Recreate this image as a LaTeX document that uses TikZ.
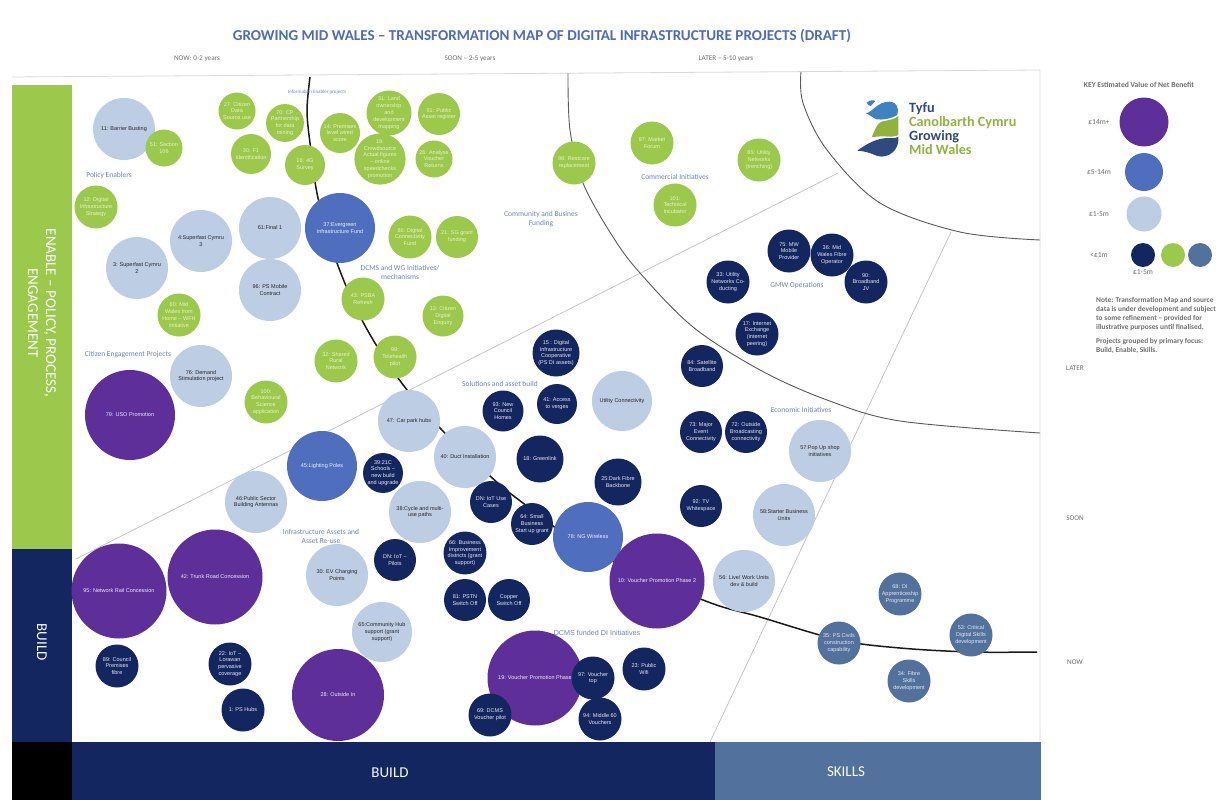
\documentclass[tikz,border=0pt]{standalone}
\usepackage{fontspec}
\setmainfont{Liberation Sans}
\newfontfamily\calib{Carlito}
\definecolor{cpurple}{HTML}{5F2F99}
\definecolor{cblue}{HTML}{4F6FBE}
\definecolor{clight}{HTML}{BCCDE4}
\definecolor{cnavy}{HTML}{14265F}
\definecolor{cgreen}{HTML}{9CC94B}
\definecolor{csteel}{HTML}{52719C}
\definecolor{clabel}{HTML}{6C82BF}
\definecolor{ctitle}{HTML}{4E6BB5}
\definecolor{cgreyt}{HTML}{6E6E6E}
\definecolor{cbluel}{HTML}{3F82C2}
\definecolor{cgreenl}{HTML}{8FB33C}
\definecolor{cnavyl}{HTML}{2E4A7E}
\tikzset{
  bubble/.style={circle,inner sep=0pt,align=center,font=\fontsize{5.5}{6.8}\selectfont},
  bpurple/.style={bubble,fill=cpurple,text=white!90!cpurple},
  bblue/.style={bubble,fill=cblue,text=white!90!cblue},
  blight/.style={bubble,fill=clight,text=black!85},
  bnavy/.style={bubble,fill=cnavy,text=white!90!cnavy},
  bgreen/.style={bubble,fill=cgreen,text=white!75!cgreen},
  bsteel/.style={bubble,fill=csteel,text=white!85!csteel},
  grouplab/.style={align=center,inner sep=0pt,text=clabel,font=\calib\fontsize{7.5}{9}\selectfont},
  axislab/.style={inner sep=0pt,text=cgreyt,font=\calib\fontsize{7.2}{8}\selectfont},
  keylab/.style={inner sep=0pt,text=cgreyt,font=\calib\fontsize{7.6}{9}\selectfont},
  bandlab/.style={inner sep=0pt,align=center,text=white!92!clight,font=\calib\fontsize{15}{18}\selectfont},
  logolab/.style={anchor=west,inner sep=0pt,font=\calib\bfseries\fontsize{14.2}{15}\selectfont},
  thinline/.style={draw=black!25,line width=0.7pt},
  nowcurve/.style={draw=black!90,line width=1.5pt},
  arccurve/.style={draw=black!65,line width=0.9pt}
}
\newcommand{\bub}[6]{\node[#5,minimum size=#4pt] (#1) at (#2,#3) {#6};}
\begin{document}
\begin{tikzpicture}[x=1pt,y=-1pt]
\useasboundingbox (0,0) rectangle (1232,800);
\fill[white] (0,0) rectangle (1232,800);
% frame
\draw[draw=black!15,line width=0.8pt] (12,77) -- (1040,70) -- (1040,742);
% bands
\fill[cgreen] (12,85) rectangle (72,549);
\fill[cnavy] (12,549) rectangle (72,742);
\fill[black] (12,742) rectangle (72,800);
\fill[cnavy] (72,742) rectangle (715,800);
\fill[csteel] (715,742) rectangle (1041,800);
\node[bandlab,rotate=-90] (bandenable) at (42,313) {ENABLE – POLICY, PROCESS,\\ENGAGEMENT};
\node[bandlab,rotate=-90] (bandbuild) at (42,642) {BUILD};
\node[bandlab] (botbuild) at (390,773) {BUILD};
\node[bandlab] (botskills) at (846,772) {SKILLS};
% thin diagonals
\draw[thinline] (76,559) -- (838,173);
\draw[thinline] (710,742) -- (951,232);
% curves
\draw[nowcurve] plot[smooth,tension=0.55] coordinates {(310,77) (307,110) (310,143) (318,198) (337,263) (363,322) (398,378) (440,428) (490,476) (523,503) (590,550) (703,600) (760,617) (839,640) (900,648) (971,652) (1037,652)};
\draw[arccurve] plot[smooth,tension=0.55] coordinates {(568,73) (570,130) (583,183) (613,237) (640,273) (693,327) (760,370) (827,400) (900,421) (1040,433)};
\draw[arccurve] plot[smooth,tension=0.55] coordinates {(801,72) (803,103) (827,150) (880,203) (960,232) (1040,240)};
% title and axes
\node[inner sep=0pt,text=ctitle,font=\calib\bfseries\fontsize{15.1}{17}\selectfont] (title) at (542,36) {GROWING MID WALES – TRANSFORMATION MAP OF DIGITAL INFRASTRUCTURE PROJECTS (DRAFT)};
\node[axislab] (axnow) at (197,59) {NOW: 0-2 years};
\node[axislab] (axsoon) at (470,59) {SOON – 2-5 years};
\node[axislab] (axlater) at (726,59) {LATER – 5-10 years};
\node[axislab] (rowlater) at (1075,368) {LATER};
\node[axislab] (rowsoon) at (1075,518) {SOON};
\node[axislab] (rownow) at (1075,662) {NOW};
% bubbles
\bub{a11}{124}{129}{62}{blight}{11: Barrier Busting}
\bub{a51}{164}{148}{37}{bgreen}{51: Section\\106}
\bub{a27}{237}{111}{37}{bgreen}{27: Citizen\\Data\\Source use}
\bub{a70}{285}{123}{37}{bgreen}{70: CP\\Partnership\\for data\\mining}
\bub{a30}{251}{154}{40}{bgreen}{30: F1\\Identification}
\bub{a16}{305}{165}{40}{bgreen}{16: 4G\\Survey}
\bub{a14}{340}{133}{40}{bgreen}{14: Premises\\level wired\\score}
\bub{a31}{389}{113}{41}{bgreen}{31: Land\\ownership\\and\\development\\mapping}
\bub{a91}{439}{114}{42}{bgreen}{91: Public\\Asset register}
\bub{a19}{380}{159}{43}{bgreen}{19:\\Crowdsource\\Actual figures\\– online\\speedchecks\\promotion}
\bub{a26}{434}{159}{37}{bgreen}{26: Analyse\\Voucher\\Returns}
\bub{a12}{96}{207}{43}{bgreen}{12: Digital\\Infrastructure\\Strategy}
\bub{a4}{201}{241}{62}{blight}{4:Superfast Cymru\\3}
\bub{a3}{137}{268}{62}{blight}{3: Superfast Cymru\\2}
\bub{a61}{270}{228}{62}{blight}{61:Final 1}
\bub{a96}{270}{290}{62}{blight}{96: PS Mobile\\Contract}
\bub{a37}{340}{228}{70}{bblue}{37:Evergreen\\Infrastructure Fund}
\bub{a86}{410}{237}{43}{bgreen}{86: Digital\\Connectivity\\Fund}
\bub{a21}{457}{237}{42}{bgreen}{21: SG grant\\funding}
\bub{a43}{363}{299}{43}{bgreen}{43: PSBA\\Refresh}
\bub{a13}{443}{316}{41}{bgreen}{13: Citizen\\Digital\\Enquiry}
\bub{a60}{179}{315}{43}{bgreen}{60: Mid\\Wales from\\Home – WFH\\initiative}
\bub{a76}{201}{376}{62}{blight}{76: Demand\\Stimulation project}
\bub{a79}{130}{415}{90}{bpurple}{79: USO  Promotion}
\bub{a100}{266}{402}{43}{bgreen}{100:\\Behavioural\\Science\\application}
\bub{a32}{336}{361}{43}{bgreen}{32: Shared\\Rural\\Network}
\bub{a99}{395}{357}{43}{bgreen}{99:\\Telehealth\\pilot}
\bub{a47}{409}{421}{62}{blight}{47: Car park hubs}
\bub{a40}{465}{457}{62}{blight}{40: Duct Installation}
\bub{a45}{322}{466}{70}{bblue}{45:Lighting Poles}
\bub{a39}{383}{473}{37}{bnavy}{39:21C\\Schools –\\new build\\and upgrade}
\bub{a46}{256}{502}{62}{blight}{46:Public Sector\\Building Antennas}
\bub{a38}{420}{512}{62}{blight}{38:Cycle and multi-\\use paths}
\bub{a15}{556}{353}{47}{bnavy}{15 : Digital\\Infrastructure\\Cooperative\\(PS DI assets)}
\bub{a93}{503}{411}{41}{bnavy}{93: New\\Council\\Homes}
\bub{a41}{557}{404}{40}{bnavy}{41: Access\\to verges}
\bub{auc}{622}{401}{60}{blight}{Utility Connectivity}
\bub{a18}{540}{459}{47}{bnavy}{18: Greenlink}
\bub{a25}{618}{482}{47}{bnavy}{25:Dark Fibre\\Backbone}
\bub{adn}{491}{502}{42}{bnavy}{DN: IoT Use\\Cases}
\bub{a64}{532}{524}{42}{bnavy}{64: Small\\Business\\Start up grant}
\bub{a78}{588}{537}{70}{bblue}{78: NG Wireless}
\bub{a10}{657}{581}{95}{bpurple}{10: Voucher Promotion Phase 2}
\bub{adp}{395}{560}{42}{bnavy}{DN: IoT –\\Pilots}
\bub{a66}{465}{553}{42}{bnavy}{66: Business\\Improvement\\districts (grant\\support)}
\bub{a81}{465}{600}{42}{bnavy}{81: PSTN\\Switch Off}
\bub{acop}{509}{600}{42}{bnavy}{Copper\\Switch Off}
\bub{a84}{702}{366}{42}{bnavy}{84: Satellite\\Broadband}
\bub{a73}{701}{432}{42}{bnavy}{73: Major\\Event\\Connectivity}
\bub{a72}{746}{432}{42}{bnavy}{72: Outside\\Broadcasting\\connectivity}
\bub{a92}{701}{506}{42}{bnavy}{92: TV\\Whitespace}
\bub{a57}{820}{451}{62}{blight}{57:Pop Up shop\\initiatives}
\bub{a58}{784}{515}{62}{blight}{58:Starter Business\\Units}
\bub{a56}{744}{581}{62}{blight}{56: Live/ Work Units\\dev \& build}
\bub{a95}{119}{591}{95}{bpurple}{95: Network Rail Concession}
\bub{a42}{215}{577}{95}{bpurple}{42: Trunk Road Concession}
\bub{aev}{337}{575}{62}{blight}{30: EV Charging\\Points}
\bub{a65}{382}{632}{60}{blight}{65:Community Hub\\support (grant\\support)}
\bub{a28}{338}{695}{92}{bpurple}{28: Outside In}
\bub{a89}{117}{666}{43}{bnavy}{89: Council\\Premises\\fibre}
\bub{a22}{230}{664}{43}{bnavy}{22: IoT –\\Lorawan\\pervasive\\coverage}
\bub{a1}{243}{710}{43}{bnavy}{1: PS Hubs}
\bub{avp}{535}{678}{95}{bpurple}{19: Voucher Promotion Phase}
\bub{a97}{593}{678}{43}{bnavy}{97: Voucher\\top}
\bub{a23}{644}{669}{43}{bnavy}{23: Public\\Wifi}
\bub{a94}{600}{719}{43}{bnavy}{94: Middle 60\\Vouchers}
\bub{a69}{490}{715}{43}{bnavy}{69: DCMS\\Voucher pilot}
\bub{a98}{574}{163}{43}{bgreen}{98: Restcare\\replacement}
\bub{a87}{652}{143}{43}{bgreen}{87: Market\\Forum}
\bub{a85}{759}{160}{43}{bgreen}{85: Utility\\Networks\\(trenching)}
\bub{a101}{675}{205}{43}{bgreen}{101:\\Technical\\Incubator}
\bub{a75}{789}{251}{43}{bnavy}{75: MW\\Mobile\\Provider}
\bub{a36}{832}{255}{43}{bnavy}{36: Mid\\Wales Fibre\\Operator}
\bub{a90}{866}{282}{43}{bnavy}{90:\\Broadband\\JV}
\bub{a33}{728}{282}{43}{bnavy}{33: Utility\\Networks Co-\\ducting}
\bub{a17}{757}{334}{43}{bnavy}{17: Internet\\Exchange\\(internet\\peering)}
\bub{a68}{900}{594}{43}{bsteel}{68: DI\\Apprenticeship\\Programme}
\bub{a53}{971}{635}{43}{bsteel}{53: Critical\\Digital Skills\\development}
\bub{a35}{839}{643}{43}{bsteel}{35: PS Civils\\construction\\capability}
\bub{a34}{909}{681}{43}{bsteel}{34: Fibre\\Skills\\development}
% group labels
\node[grouplab,font=\calib\fontsize{5}{6}\selectfont] (g0) at (317,92) {Information Enabler projects};
\node[grouplab] (g1) at (109,175) {Policy Enablers};
\node[grouplab] (g2) at (400,272) {DCMS and WG Initiatives/\\mechanisms};
\node[grouplab] (g3) at (541,219) {Community and Busines\\Funding};
\node[grouplab] (g4) at (675,177) {Commercial Initiatives};
\node[grouplab] (g5) at (797,286) {GMW Operations};
\node[grouplab] (g6) at (128,355) {Citizen Engagement Projects};
\node[grouplab] (g7) at (500,384) {Solutions and asset build};
\node[grouplab] (g8) at (801,410) {Economic Initiatives};
\node[grouplab] (g9) at (321,536) {Infrastructure Assets and\\Asset Re-use};
\node[grouplab,font=\fontsize{7.2}{9}\selectfont] (g10) at (597,633) {DCMS funded DI Initiatives};
% key
\node[keylab] (k0) at (1139,85) {\bfseries KEY  Estimated Value of Net Benefit};
\node[keylab] (k1) at (1099,122) {£14m+};
\node[keylab] (k2) at (1099,172) {£5-14m};
\node[keylab] (k3) at (1099,214) {£1-5m};
\node[keylab] (k4) at (1099,255) {<£1m};
\node[keylab] (k5) at (1143,272) {£1-5m};
\bub{kp}{1144}{122}{49}{bpurple}{}
\bub{kb}{1144}{172}{38}{bblue}{}
\bub{kl}{1144}{214}{35}{blight}{}
\bub{kn}{1143}{255}{24}{bnavy}{}
\bub{kg}{1173}{255}{24}{bgreen}{}
\bub{ks}{1200}{255}{24}{bsteel}{}
\node[keylab,anchor=north west,align=left,font=\calib\bfseries\fontsize{7.4}{9}\selectfont] (knote) at (1096,297) {Note: Transformation Map and source\\data is under development and subject\\to some refinement – provided for\\illustrative purposes until finalised.\\[5pt]Projects grouped by primary focus:\\Build, Enable, Skills.};
% logo
\begin{scope}[shift={(840,80)},x=0.3333pt,y=-0.3333pt]
\fill[cnavyl] (52,212) .. controls (75,195) and (100,180) .. (130,175) .. controls (150,172) and (165,178) .. (175,170) .. controls (178,200) and (160,228) .. (125,230) .. controls (105,230) and (95,215) .. (52,212) -- cycle;
\fill[cgreenl] (95,172) .. controls (105,150) and (110,130) .. (125,125) .. controls (145,120) and (165,118) .. (175,108) -- (175,165) .. controls (160,175) and (130,165) .. (95,172) -- cycle;
\fill[cbluel] (78,100) .. controls (100,95) and (110,65) .. (150,65) .. controls (170,65) and (178,85) .. (172,105) .. controls (150,118) and (125,120) .. (110,118) .. controls (100,115) and (90,105) .. (78,100) -- cycle;
\fill[cbluel] (80,68) .. controls (90,58) and (105,60) .. (106,64) .. controls (96,66) and (102,76) .. (92,78) .. controls (88,78) and (82,74) .. (80,68) -- cycle;
\end{scope}
\node[logolab,text=cnavyl] (l1) at (909,109) {Tyfu};
\node[logolab,text=cgreenl] (l2) at (909,123) {Canolbarth Cymru};
\node[logolab,text=cnavyl] (l3) at (909,137) {Growing};
\node[logolab,text=cgreenl] (l4) at (909,150) {Mid Wales};
\end{tikzpicture}
\end{document}
